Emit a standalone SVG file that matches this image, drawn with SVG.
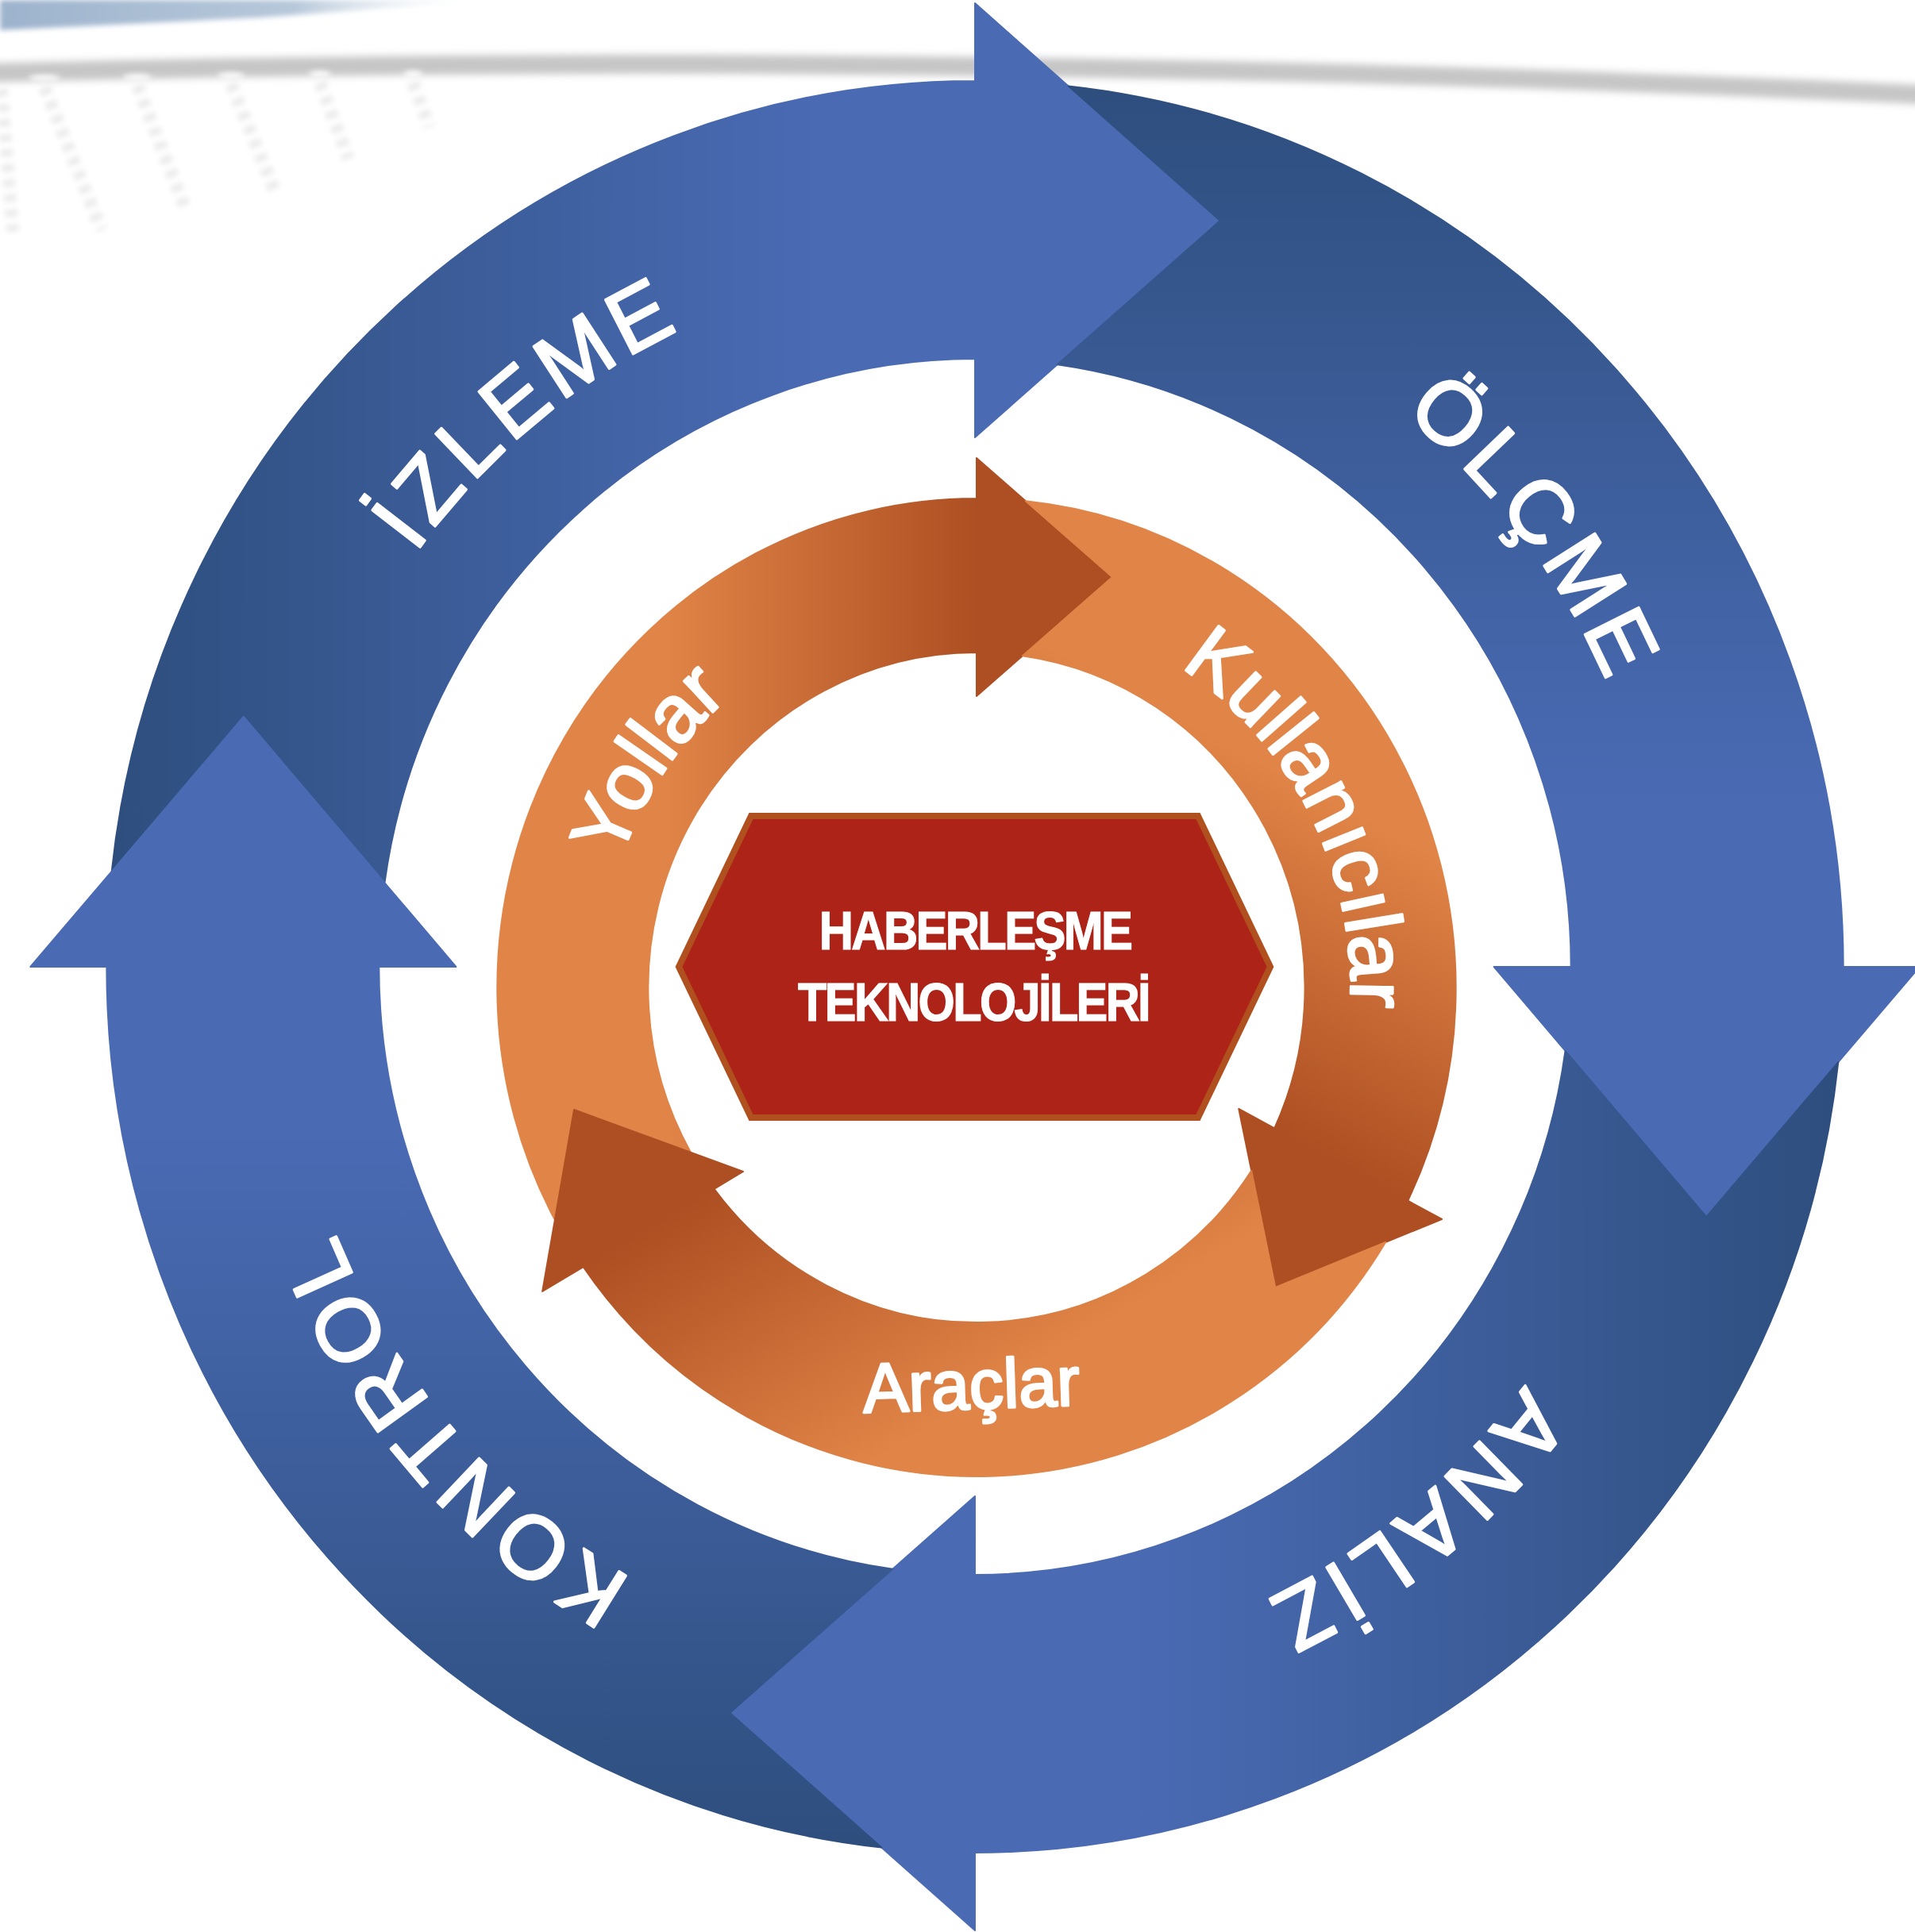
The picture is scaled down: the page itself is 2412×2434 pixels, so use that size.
<svg xmlns="http://www.w3.org/2000/svg" width="2412" height="2434" viewBox="0 0 2412 2434">
<defs>
<style>
.lbl{font-family:'Liberation Sans',Arial,sans-serif;fill:#ffffff;stroke:#ffffff;stroke-width:3;stroke-linejoin:round;}
.blue{font-size:112px;letter-spacing:8px;}
.orl{font-size:102px;}
.hex{font-family:'Liberation Sans',Arial,sans-serif;font-weight:bold;font-size:68px;letter-spacing:-3px;fill:#ffffff;stroke:#ffffff;stroke-width:1.2;}
.arrB{fill:url(#gBlue);stroke:url(#gBlue);stroke-width:2;stroke-linejoin:round;}
</style>
<filter id="blur5" x="-10%" y="-200%" width="120%" height="500%"><feGaussianBlur stdDeviation="5"/></filter>
<filter id="blur3" x="-50%" y="-50%" width="200%" height="200%"><feGaussianBlur stdDeviation="3"/></filter>
<linearGradient id="gStreak" x1="0" y1="0" x2="1" y2="0"><stop offset="0" stop-color="#9db3cd"/><stop offset="0.6" stop-color="#b7c8da"/><stop offset="1" stop-color="#ffffff" stop-opacity="0"/></linearGradient>
<linearGradient id="gBlue" gradientUnits="userSpaceOnUse" x1="-1116" y1="0" x2="-200" y2="0"><stop offset="0" stop-color="#2d4e7d"/><stop offset="1" stop-color="#4a6bb4"/></linearGradient>
<linearGradient id="gOr0" gradientUnits="userSpaceOnUse" x1="-400" y1="0" x2="0" y2="0"><stop offset="0" stop-color="#e08447"/><stop offset="1" stop-color="#ad4f22"/></linearGradient>
<linearGradient id="gOr1" gradientUnits="userSpaceOnUse" x1="524.6" y1="-200.2" x2="337" y2="153"><stop offset="0" stop-color="#e08447"/><stop offset="1" stop-color="#ad4f22"/></linearGradient>
<linearGradient id="gOr2" gradientUnits="userSpaceOnUse" x1="-98" y1="577" x2="-300" y2="232"><stop offset="0" stop-color="#e08447"/><stop offset="1" stop-color="#ad4f22"/></linearGradient>
<path id="tpIzleme" d="M -685.2 564.9 A 888 888 0 0 1 685.2 -564.9"/>
<path id="tpOlcme" d="M -540.6 -704.5 A 888 888 0 0 1 540.6 704.5"/>
<path id="tpAnaliz" d="M 690.1 -558.8 A 888 888 0 0 1 -690.1 558.8"/>
<path id="tpKontrol" d="M 582.6 670.2 A 888 888 0 0 1 -582.6 -670.2"/>
<path id="tpYollar" d="M -274 406.2 A 490 490 0 0 1 274 -406.2"/>
<path id="tpKull" d="M -218.4 -428.6 A 481 481 0 0 1 218.4 428.6"/>
</defs>

<g id="background">
  <polygon points="0,0 620,0 330,22 0,38" fill="url(#gStreak)" filter="url(#blur3)"/>
  <path d="M -20 92 Q 1150 60 2440 120" fill="none" stroke="#c6c6c6" stroke-width="24" filter="url(#blur5)"/>
  <g fill="#ffffff" opacity="0.9" filter="url(#blur3)">
    <ellipse cx="56" cy="98" rx="20" ry="4"/>
    <ellipse cx="173" cy="97" rx="18" ry="4"/>
    <ellipse cx="291" cy="95" rx="17" ry="4"/>
    <ellipse cx="403" cy="93" rx="14" ry="4"/>
    <ellipse cx="520" cy="93" rx="12" ry="4"/>
  </g>
  <g stroke="#e6e6e6" stroke-width="16" stroke-dasharray="10 9" fill="none" filter="url(#blur3)" opacity="0.75">
    <line x1="2" y1="112" x2="16" y2="292"/>
    <line x1="56" y1="110" x2="128" y2="290"/>
    <line x1="173" y1="108" x2="235" y2="267"/>
    <line x1="291" y1="106" x2="347" y2="243"/>
    <line x1="403" y1="104" x2="439" y2="200"/>
    <line x1="520" y1="104" x2="541" y2="160"/>
  </g>
</g>

<g id="outer-cycle" transform="translate(1228,1218) scale(0.98,1)">
  <g id="izleme">
    <path class="arrB" d="M -1109.5 -120.1 A 1116 1116 0 0 1 0 -1116 L 0 -1214 L 315 -940 L 0 -667 L 0 -766 A 766 766 0 0 0 -758.7 -105.8 L -940 -315 Z"/>
    <text class="lbl blue"><textPath href="#tpIzleme" startOffset="50%" text-anchor="middle">İZLEME</textPath></text>
  </g>
  <g id="olcme">
    <path class="arrB" transform="rotate(90)" d="M -1109.5 -120.1 A 1116 1116 0 0 1 0 -1116 L 0 -1214 L 315 -940 L 0 -667 L 0 -766 A 766 766 0 0 0 -758.7 -105.8 L -940 -315 Z"/>
    <text class="lbl blue"><textPath href="#tpOlcme" startOffset="50%" text-anchor="middle">ÖLÇME</textPath></text>
  </g>
  <g id="analiz">
    <path class="arrB" transform="rotate(180)" d="M -1109.5 -120.1 A 1116 1116 0 0 1 0 -1116 L 0 -1214 L 315 -940 L 0 -667 L 0 -766 A 766 766 0 0 0 -758.7 -105.8 L -940 -315 Z"/>
    <text class="lbl blue"><textPath href="#tpAnaliz" startOffset="50%" text-anchor="middle">ANALİZ</textPath></text>
  </g>
  <g id="kontrol">
    <path class="arrB" transform="rotate(270)" d="M -1109.5 -120.1 A 1116 1116 0 0 1 0 -1116 L 0 -1214 L 315 -940 L 0 -667 L 0 -766 A 766 766 0 0 0 -758.7 -105.8 L -940 -315 Z"/>
    <text class="lbl blue"><textPath href="#tpKontrol" startOffset="50%" text-anchor="middle">KONTROL</textPath></text>
  </g>
</g>

<g id="inner-cycle" transform="translate(1230,1244) scale(0.98,1)">
  <g id="yollar">
    <path fill="url(#gOr0)" stroke="url(#gOr0)" stroke-width="2" stroke-linejoin="round" d="M -542 292.8 A 616 616 0 0 1 0 -616 L 0 -667 L 174.5 -517 L 0 -367 L 0 -422 A 422 422 0 0 0 -367.3 207.9 L -517.3 154 Z"/>
    <text class="lbl orl"><textPath href="#tpYollar" startOffset="50%" text-anchor="middle">Yollar</textPath></text>
  </g>
  <g id="kullanicilar">
    <path fill="url(#gOr1)" stroke="url(#gOr1)" stroke-width="2" stroke-linejoin="round" d="M 63.1 -612.8 A 616 616 0 0 1 554.3 268.7 L 598 292 L 384 378 L 337 153 L 382.9 177.4 A 422 422 0 0 0 59.1 -417.8 L 174.5 -517 Z"/>
    <text class="lbl orl"><textPath href="#tpKull" startOffset="50%" text-anchor="middle">Kullanıcılar</textPath></text>
  </g>
  <g id="araclar">
    <path fill="url(#gOr2)" stroke="url(#gOr2)" stroke-width="2" stroke-linejoin="round" d="M 525.7 321 A 616 616 0 0 1 -505.4 352.2 L -558 383 L -517.3 154 L -300 232 L -337.2 253.8 A 422 422 0 0 0 353.3 230.9 L 384 378 Z"/>
    <text class="lbl" font-size="88" x="-6" y="531" text-anchor="middle" transform="rotate(-2 -6 531)">Araçlar</text>
  </g>
</g>

<g id="center-node">
  <polygon points="946,1028 1509,1028 1600,1218 1509,1408 946,1408 855,1218" fill="#ae2318" stroke="#b1501f" stroke-width="8" stroke-linejoin="miter"/>
  <text class="hex" text-anchor="middle" transform="translate(1228,1196) scale(0.88,1)">HABERLEŞME</text>
  <text class="hex" text-anchor="middle" transform="translate(1226,1286) scale(0.875,1)">TEKNOLOJİLERİ</text>
</g>
</svg>
